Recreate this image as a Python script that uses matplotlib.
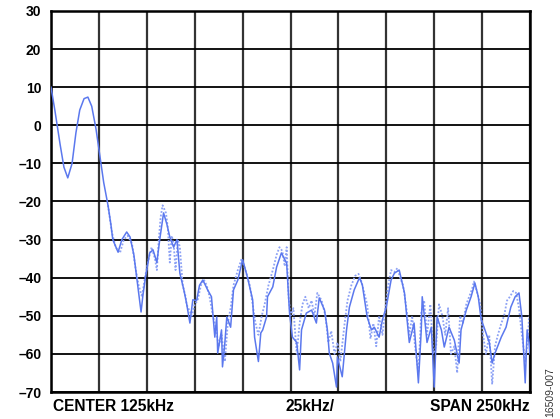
import numpy as np
import matplotlib.pyplot as plt

plt.rcParams['font.family'] = ['Liberation Sans', 'DejaVu Sans']

# trace positions in display divisions (0..10 across the span)
# solid trace: division position, level (dB)
solid_div = [0.00, 0.08, 0.19, 0.27, 0.35, 0.44, 0.52, 0.60, 0.69, 0.77, 0.85, 0.94,
             1.02, 1.10, 1.19, 1.25, 1.29, 1.40, 1.48, 1.58, 1.65, 1.73, 1.79, 1.85,
             1.88, 1.92, 1.98, 2.06, 2.13, 2.21, 2.27, 2.35, 2.42, 2.48, 2.56, 2.63,
             2.69, 2.77, 2.83, 2.90, 2.96, 3.04, 3.10, 3.17, 3.27, 3.35, 3.42, 3.46,
             3.48, 3.56, 3.58, 3.63, 3.67, 3.75, 3.81, 3.90, 4.00, 4.10, 4.21, 4.25,
             4.33, 4.38, 4.42, 4.50, 4.52, 4.63, 4.71, 4.81, 4.92, 4.98, 5.04, 5.13,
             5.19, 5.23, 5.33, 5.44, 5.54, 5.60, 5.71, 5.77, 5.81, 5.88, 5.96, 5.98,
             6.08, 6.17, 6.23, 6.33, 6.44, 6.50, 6.60, 6.69, 6.75, 6.85, 6.92, 7.00,
             7.10, 7.17, 7.27, 7.38, 7.44, 7.48, 7.58, 7.67, 7.73, 7.75, 7.81, 7.85,
             7.94, 8.00, 8.06, 8.15, 8.21, 8.31, 8.42, 8.52, 8.56, 8.67, 8.77, 8.85,
             8.92, 8.98, 9.04, 9.15, 9.21, 9.27, 9.40, 9.50, 9.60, 9.69, 9.77, 9.83,
             9.90, 9.94, 9.98, 10.0]
solid_db = [10.0, 4.0, -5.0, -11.0, -13.8, -10.0, -2.0, 4.0, 7.0, 7.4, 5.0, -1.0,
            -8.0, -15.0, -21.0, -26.0, -30.0, -33.3, -30.0, -28.0, -29.3, -34.0, -40.0,
            -45.8, -49.0, -44.5, -39.3, -33.5, -32.7, -36.0, -30.0, -23.0, -26.0, -29.3,
            -32.0, -30.0, -38.8, -43.0, -46.7, -51.9, -45.8, -46.0, -42.0, -40.6, -43.2,
            -45.0, -55.6, -50.3, -59.8, -53.7, -63.4, -57.0, -50.3, -53.0, -43.2, -40.6,
            -35.3, -39.8, -45.8, -55.6, -62.0, -54.5, -53.7, -50.3, -45.0, -42.4, -37.2,
            -33.5, -36.2, -49.3, -55.6, -57.0, -64.2, -53.7, -49.3, -48.5, -51.9, -45.3,
            -48.5, -53.7, -59.8, -62.4, -68.7, -60.8, -66.0, -53.7, -47.7, -43.2, -40.0,
            -41.9, -50.3, -53.7, -53.0, -55.6, -51.0, -47.7, -40.6, -38.8, -38.0, -44.0,
            -51.9, -57.0, -51.9, -67.6, -53.7, -45.0, -51.9, -57.0, -53.0, -68.7, -50.3,
            -53.7, -58.2, -53.0, -56.4, -62.4, -53.7, -48.5, -45.0, -41.4, -45.0, -51.0,
            -53.0, -57.0, -62.4, -59.8, -55.6, -53.0, -47.7, -45.0, -44.0, -50.3, -67.6,
            -53.7, -57.0, -60.0]

# dotted trace (second sweep)
dot_div = [1.19, 1.27, 1.35, 1.44, 1.52, 1.60, 1.69, 1.77, 1.83, 1.90, 1.96, 2.04,
           2.10, 2.17, 2.21, 2.25, 2.29, 2.33, 2.40, 2.44, 2.48, 2.52, 2.56, 2.60,
           2.65, 2.69, 2.75, 2.81, 2.83, 2.94, 3.00, 3.06, 3.13, 3.19, 3.25, 3.31,
           3.38, 3.44, 3.50, 3.56, 3.63, 3.69, 3.75, 3.81, 3.90, 3.98, 4.06, 4.15,
           4.21, 4.27, 4.33, 4.40, 4.46, 4.54, 4.63, 4.71, 4.77, 4.83, 4.88, 4.92,
           4.96, 5.00, 5.06, 5.13, 5.19, 5.25, 5.31, 5.38, 5.44, 5.50, 5.56, 5.65,
           5.73, 5.79, 5.85, 5.92, 5.98, 6.04, 6.13, 6.19, 6.27, 6.35, 6.42, 6.48,
           6.54, 6.60, 6.67, 6.73, 6.79, 6.85, 6.92, 6.98, 7.04, 7.10, 7.17, 7.23,
           7.29, 7.35, 7.42, 7.48, 7.54, 7.60, 7.67, 7.73, 7.79, 7.85, 7.92, 7.98,
           8.04, 8.10, 8.17, 8.23, 8.29, 8.35, 8.42, 8.48, 8.54, 8.60, 8.67, 8.73,
           8.79, 8.83, 8.90, 8.96, 9.02, 9.08, 9.15, 9.21, 9.27, 9.33, 9.40, 9.46,
           9.52, 9.58, 9.65, 9.71, 9.77, 9.83, 9.90, 9.96, 9.98]
dot_db = [-21, -28, -32, -33.5, -30, -29, -31, -38, -42, -45, -40, -35, -32, -35, -38,
          -30, -24, -21, -23, -27, -36, -29, -31, -38, -30, -32, -42, -45, -47, -50,
          -47, -46, -42, -40.5, -42, -45, -50, -53, -58, -55, -62, -52, -48, -42, -38,
          -35, -38, -42, -47, -52, -55, -50, -47, -42, -38, -34, -32, -33, -37, -32,
          -45, -50, -48, -60, -52, -47, -45, -48, -46, -50, -44, -46, -50, -57, -54,
          -60, -57, -62, -52, -46, -42, -39.5, -39, -41, -44, -47, -56, -52, -58, -50,
          -55, -48, -42, -38, -38.5, -37.5, -40, -42, -48, -55, -50, -58, -65, -49, -46,
          -55, -47, -60, -58, -47, -50, -55, -48, -60, -58, -65, -50, -52, -47, -45,
          -43, -41, -44, -47, -55, -60, -55, -68, -58, -55, -52, -50, -46, -45, -43.5,
          -44, -48, -55, -62, -56, -50]

y_ticks = [30, 20, 10, 0, -10, -20, -30, -40, -50, -60, -70]
y_labels = [str(v).replace('-', '\u2013') for v in y_ticks]

fig = plt.figure(figsize=(5.6, 4.19), dpi=100)
ax = fig.add_axes([51 / 560, 1 - 392 / 419, 479 / 560, 381 / 419])

ax.plot(dot_div, dot_db, color='#8da2f5', lw=1.3, ls=(0, (1, 1)), zorder=2)
ax.plot(solid_div, solid_db, color='#5b78ee', lw=1.1, zorder=3)

ax.set_xlim(0, 10)
ax.set_ylim(-70, 30)
ax.set_xticks(np.arange(0, 11, 1))
ax.set_xticklabels([])
ax.set_yticks(y_ticks)
ax.set_yticklabels(y_labels, fontsize=10, fontweight='bold')
ax.tick_params(length=0, pad=7)
ax.xaxis.grid(True, color='#333333', lw=1.6)
ax.yaxis.grid(True, color='black', lw=1.3)
ax.set_axisbelow(True)
for s in ax.spines.values():
    s.set_linewidth(1.8)

fig.text(53 / 560, 1 - 406 / 419, 'CENTER 125kHz', fontsize=11.2, fontweight='bold',
         va='center', ha='left')
fig.text(310 / 560, 1 - 406 / 419, '25kHz/', fontsize=11.2, fontweight='bold',
         va='center', ha='center')
fig.text(530 / 560, 1 - 406 / 419, 'SPAN 250kHz', fontsize=11.2, fontweight='bold',
         va='center', ha='right')
fig.text(550 / 560, 1 - 392 / 419, '16509-007', fontsize=7.5, rotation=90,
         va='center', ha='center', color='#333333')

fig.savefig('out.png', dpi=100)
